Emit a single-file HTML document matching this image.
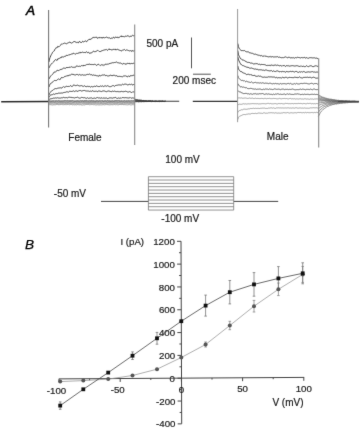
<!DOCTYPE html>
<html><head><meta charset="utf-8"><title>Figure</title>
<style>
html,body{margin:0;padding:0;background:#fff;}
body{width:360px;height:430px;overflow:hidden;}
svg{display:block;}
text{font-family:"Liberation Sans",sans-serif;fill:#1a1a1a;stroke:#1a1a1a;stroke-width:0.2px;}
.t10{font-size:10px;}
.t95{font-size:9.7px;}
.lab{font-size:13.6px;font-style:italic;stroke-width:0.5px;fill:#000;stroke:#000;}
</style></head>
<body>
<svg width="360" height="430" viewBox="0 0 360 430">
<defs><filter id="soft" x="0" y="0" width="360" height="430" filterUnits="userSpaceOnUse" color-interpolation-filters="sRGB"><feConvolveMatrix order="3" kernelMatrix="1 10 1 10 100 10 1 10 1" divisor="144" edgeMode="duplicate"/></filter></defs>
<g filter="url(#soft)">
<rect width="360" height="430" fill="#fff"/>
<text x="25.9" y="15.4" class="lab">A</text>
<text x="25.1" y="248.9" class="lab" style="stroke-width:0.25px">B</text>
<line x1="1.2" y1="101.7" x2="48.8" y2="101.6" stroke="#2a2a2a" stroke-width="1.5"/>
<path d="M48.9 62L49.5 59L50.11 57.36L50.71 55.86L51.31 54.67L51.92 53.72L52.52 52.3L53.12 51.72L53.73 51.22L54.33 50.81L54.94 49.16L55.54 48.48L56.14 47.53L56.75 47.92L57.35 47.55L57.95 46.11L58.56 46.71L59.16 46.64L59.76 45.95L60.37 45.52L60.97 44.56L61.57 43.9L62.18 44.35L62.78 43.71L63.38 43.59L63.99 43.54L64.59 43.09L65.2 43.46L65.8 43.39L66.4 43.8L67.01 43.28L67.61 43.11L68.21 42.7L68.82 42.68L69.42 42.3L70.02 41.88L70.63 42.81L71.23 43.12L71.83 42.99L72.44 42.74L73.04 42.05L73.64 41.68L74.25 41.63L74.85 41.29L75.45 42.2L76.06 41.97L76.66 42.56L77.27 42.06L77.87 42.74L78.47 42.81L79.08 41.55L79.68 41.41L80.28 42.39L80.89 42.05L81.49 42.67L82.09 41.97L82.7 41.2L83.3 41.72L83.9 42.07L84.51 41.37L85.11 40.79L85.71 40.87L86.32 41.73L86.92 41.59L87.53 40.44L88.13 40.07L88.73 39.56L89.34 39.15L89.94 39.95L90.54 39.07L91.15 39.02L91.75 38.54L92.35 37.73L92.96 38.1L93.56 37.3L94.16 37.8L94.77 37.17L95.37 37.38L95.97 37.13L96.58 37.12L97.18 38.16L97.79 38.26L98.39 37.54L98.99 38.16L99.6 37.36L100.2 37.36L100.8 38.05L101.41 37.99L102.01 37.17L102.61 38.24L103.22 37.47L103.82 37.29L104.42 38.02L105.03 37.63L105.63 37.47L106.23 37.11L106.84 37.02L107.44 37.75L108.05 37.51L108.65 37.97L109.25 37.8L109.86 37.86L110.46 38.63L111.06 38.17L111.67 38.11L112.27 38.48L112.87 37.54L113.48 37.11L114.08 38.03L114.68 38.16L115.29 37.28L115.89 36.82L116.49 37.42L117.1 37.87L117.7 36.85L118.3 37.58L118.91 37.69L119.51 37.27L120.12 36.82L120.72 36.17L121.32 35.81L121.93 37.05L122.53 36.37L123.13 36.8L123.74 36.26L124.34 36.89L124.94 36.75L125.55 36.22L126.15 35.83L126.75 36.49L127.36 35.73L127.96 35.68L128.56 36.14L129.17 36.72L129.77 36.56L130.38 35.98L130.98 36.72L131.58 35.9L132.19 35.32L132.79 35.49L133.39 35.81L134 35.34L134.6 35.35" fill="none" stroke="#444" stroke-width="1"/>
<path d="M48.9 68L49.5 66.85L50.11 65.64L50.71 64.57L51.31 64.03L51.92 63.61L52.52 62.88L53.12 62.39L53.73 61.8L54.33 60.75L54.94 60.02L55.54 59.51L56.14 60.33L56.75 60.08L57.35 60.12L57.95 58.59L58.56 58.69L59.16 58.31L59.76 58.33L60.37 57.59L60.97 58.1L61.57 56.81L62.18 56.84L62.78 56.95L63.38 57.05L63.99 56.7L64.59 56.37L65.2 56.23L65.8 56.21L66.4 55.28L67.01 55.29L67.61 55.47L68.21 55.39L68.82 54.62L69.42 54.78L70.02 54.86L70.63 54.41L71.23 54.26L71.83 53.8L72.44 53.85L73.04 53.85L73.64 53.05L74.25 53.5L74.85 54.1L75.45 54.11L76.06 53.85L76.66 53.23L77.27 53.46L77.87 53.28L78.47 52.97L79.08 53.38L79.68 52.42L80.28 52.97L80.89 52.1L81.49 52.55L82.09 52.48L82.7 52.06L83.3 52.53L83.9 52.39L84.51 52.48L85.11 52.95L85.71 52.22L86.32 51.7L86.92 52L87.53 52.72L88.13 52.38L88.73 52.29L89.34 53.32L89.94 53.35L90.54 52.98L91.15 53.31L91.75 52.41L92.35 52.33L92.96 51.42L93.56 51.22L94.16 51.53L94.77 51.73L95.37 51.76L95.97 51.07L96.58 51.1L97.18 50.73L97.79 50.34L98.39 50.7L98.99 51.3L99.6 51.52L100.2 51.4L100.8 51.69L101.41 50.83L102.01 50.37L102.61 50.58L103.22 50.38L103.82 50.02L104.42 49.92L105.03 49.95L105.63 49.66L106.23 49.35L106.84 49.99L107.44 50.42L108.05 49.84L108.65 49.11L109.25 48.81L109.86 49.89L110.46 49.12L111.06 49.8L111.67 49.86L112.27 49.53L112.87 50.1L113.48 49.24L114.08 49.12L114.68 49.54L115.29 49.11L115.89 50.1L116.49 49.64L117.1 49.36L117.7 49.15L118.3 49.91L118.91 49.94L119.51 50.22L120.12 50.37L120.72 50.65L121.32 50.98L121.93 50.73L122.53 49.98L123.13 50.12L123.74 49.77L124.34 49.43L124.94 49.98L125.55 50.52L126.15 49.99L126.75 49.95L127.36 50.05L127.96 50.6L128.56 50.57L129.17 50.71L129.77 50.97L130.38 50.58L130.98 51.02L131.58 51.35L132.19 50.34L132.79 51.19L133.39 51.22L134 50.42L134.6 50.61" fill="none" stroke="#444" stroke-width="1"/>
<path d="M48.9 79L49.5 77.93L50.11 76.85L50.71 75.96L51.31 75.37L51.92 74.72L52.52 74.39L53.12 73.4L53.73 72.96L54.33 71.95L54.94 71.99L55.54 71.88L56.14 71.38L56.75 71.09L57.35 70.13L57.95 70.51L58.56 70.59L59.16 70.47L59.76 69.73L60.37 69.7L60.97 68.97L61.57 69.39L62.18 69.38L62.78 68.63L63.38 67.95L63.99 68.1L64.59 68.23L65.2 68.49L65.8 68.15L66.4 67.38L67.01 68.06L67.61 67.27L68.21 67.89L68.82 67.24L69.42 67.16L70.02 67.65L70.63 66.92L71.23 66.62L71.83 66.94L72.44 67.26L73.04 67.47L73.64 67.3L74.25 67.52L74.85 66.96L75.45 67.3L76.06 66.25L76.66 66L77.27 66.26L77.87 65.99L78.47 66.41L79.08 66.38L79.68 66.16L80.28 66.44L80.89 66.1L81.49 65.57L82.09 65.4L82.7 65.85L83.3 65.99L83.9 65.05L84.51 65.47L85.11 65.68L85.71 65.1L86.32 64.89L86.92 64.26L87.53 64.42L88.13 64.39L88.73 64.48L89.34 63.75L89.94 64.71L90.54 64.47L91.15 64.24L91.75 64.7L92.35 64.57L92.96 64.45L93.56 64.7L94.16 64L94.77 64.4L95.37 64.41L95.97 65.15L96.58 65.4L97.18 64.66L97.79 64.7L98.39 64.3L98.99 64.58L99.6 65.2L100.2 65.55L100.8 65.14L101.41 64.8L102.01 64.53L102.61 64.99L103.22 65.55L103.82 64.69L104.42 65.19L105.03 64.33L105.63 64.19L106.23 64.1L106.84 64.59L107.44 64.19L108.05 64L108.65 64.17L109.25 63.46L109.86 63.92L110.46 63.18L111.06 63.33L111.67 62.94L112.27 62.64L112.87 62.88L113.48 62.76L114.08 62.57L114.68 62.5L115.29 62.58L115.89 62.09L116.49 61.97L117.1 62.48L117.7 62.7L118.3 62.68L118.91 63.16L119.51 63.1L120.12 63.48L120.72 62.89L121.32 63.43L121.93 63.8L122.53 64.12L123.13 63.54L123.74 63.38L124.34 64.14L124.94 63.5L125.55 64.28L126.15 64.41L126.75 63.47L127.36 63.28L127.96 63.85L128.56 63.44L129.17 63.08L129.77 63.92L130.38 63.67L130.98 64.07L131.58 63.34L132.19 63.45L132.79 63.85L133.39 63.13L134 63.11L134.6 63.73" fill="none" stroke="#444" stroke-width="1"/>
<path d="M48.9 87L49.5 85.54L50.11 84.04L50.71 83.38L51.31 83.08L51.92 82.55L52.52 82.34L53.12 81.5L53.73 80.89L54.33 80.57L54.94 80.23L55.54 80.59L56.14 80.52L56.75 80.4L57.35 79.67L57.95 79.26L58.56 78.94L59.16 79.4L59.76 79.54L60.37 79.32L60.97 78.05L61.57 77.38L62.18 78.03L62.78 77.49L63.38 77.5L63.99 76.83L64.59 76.62L65.2 76.48L65.8 76.21L66.4 76.22L67.01 75.4L67.61 75.82L68.21 76.03L68.82 75.2L69.42 75.13L70.02 75.35L70.63 74.94L71.23 74.46L71.83 74.18L72.44 74.44L73.04 73.89L73.64 74.71L74.25 74.87L74.85 74.8L75.45 74.98L76.06 74.76L76.66 74.43L77.27 74.55L77.87 74.5L78.47 75.06L79.08 75.05L79.68 74.4L80.28 74.97L80.89 74.97L81.49 75.02L82.09 75.09L82.7 74.63L83.3 75.06L83.9 75.2L84.51 75.03L85.11 75.07L85.71 75.08L86.32 74.66L86.92 74.91L87.53 74.22L88.13 74.31L88.73 74.51L89.34 74.04L89.94 74.3L90.54 74.75L91.15 74.92L91.75 74.55L92.35 75.31L92.96 75.29L93.56 74.94L94.16 75.25L94.77 75.3L95.37 75.33L95.97 75.21L96.58 75.95L97.18 75.81L97.79 75.87L98.39 75.99L98.99 76.31L99.6 75.28L100.2 75.63L100.8 75.89L101.41 75.4L102.01 75.38L102.61 74.95L103.22 74.95L103.82 75.15L104.42 74.87L105.03 74.94L105.63 75.73L106.23 75.56L106.84 75.44L107.44 75.93L108.05 75.62L108.65 76.01L109.25 75.71L109.86 75.81L110.46 74.98L111.06 75.33L111.67 75.68L112.27 74.99L112.87 75.85L113.48 75.28L114.08 75.52L114.68 75.3L115.29 75.67L115.89 76.01L116.49 75.53L117.1 76.48L117.7 76.25L118.3 76.35L118.91 76.52L119.51 76.34L120.12 76.22L120.72 76.64L121.32 76.69L121.93 76.38L122.53 76.78L123.13 76.4L123.74 75.92L124.34 76.01L124.94 75.77L125.55 75.79L126.15 76.48L126.75 76.24L127.36 76.72L127.96 76.66L128.56 75.74L129.17 76.48L129.77 76.63L130.38 75.56L130.98 76.11L131.58 75.65L132.19 75.46L132.79 75.9L133.39 75.09L134 75.04L134.6 75.42" fill="none" stroke="#444" stroke-width="1"/>
<path d="M48.9 95L49.5 93.44L50.11 92.53L50.71 91.96L51.31 91.37L51.92 90.52L52.52 90.43L53.12 90.05L53.73 89.45L54.33 88.91L54.94 89.08L55.54 88.55L56.14 88.58L56.75 88.7L57.35 88.39L57.95 87.96L58.56 88.06L59.16 87.81L59.76 88.03L60.37 87.75L60.97 88.08L61.57 88.06L62.18 87.74L62.78 87.02L63.38 86.56L63.99 87.19L64.59 87.23L65.2 87.01L65.8 86.58L66.4 86.28L67.01 86.57L67.61 86.49L68.21 86.44L68.82 86.41L69.42 86.48L70.02 85.82L70.63 85.61L71.23 86.28L71.83 86.4L72.44 86.37L73.04 85.4L73.64 85.06L74.25 85.16L74.85 85.36L75.45 85.65L76.06 85.19L76.66 85.53L77.27 85.15L77.87 85.05L78.47 85.7L79.08 85.81L79.68 85.97L80.28 85.77L80.89 85.85L81.49 85.62L82.09 85.72L82.7 86.24L83.3 86.55L83.9 85.86L84.51 85.7L85.11 86.43L85.71 86.51L86.32 86.73L86.92 86.21L87.53 86.29L88.13 86.14L88.73 86.71L89.34 86.43L89.94 86.65L90.54 87.09L91.15 86.51L91.75 86.55L92.35 86.78L92.96 87.05L93.56 86.6L94.16 86.37L94.77 85.99L95.37 86.7L95.97 86.07L96.58 85.85L97.18 86.29L97.79 86.35L98.39 86.58L98.99 86.23L99.6 86.63L100.2 85.99L100.8 85.9L101.41 86.36L102.01 85.87L102.61 85.93L103.22 86.41L103.82 86.53L104.42 86.11L105.03 85.8L105.63 85.91L106.23 86.34L106.84 86.08L107.44 85.69L108.05 86.19L108.65 86.2L109.25 86.56L109.86 86.69L110.46 86.68L111.06 86.14L111.67 86.32L112.27 85.81L112.87 85.62L113.48 85.62L114.08 86.18L114.68 86.3L115.29 85.6L115.89 85.44L116.49 85.32L117.1 85.22L117.7 85.15L118.3 85.04L118.91 84.71L119.51 84.93L120.12 85.19L120.72 84.92L121.32 85.09L121.93 84.78L122.53 84.2L123.13 84.59L123.74 84.84L124.34 84.24L124.94 83.75L125.55 84.13L126.15 84.29L126.75 84.38L127.36 84.87L127.96 84.7L128.56 84.83L129.17 84.08L129.77 84.38L130.38 84.77L130.98 84.17L131.58 84L132.19 84.71L132.79 85.18L133.39 84.51L134 84.94L134.6 84.62" fill="none" stroke="#444" stroke-width="1"/>
<path d="M48.9 97.5L49.5 96.23L50.11 95.38L50.71 94.92L51.31 94.88L51.92 94.62L52.52 94.64L53.12 94.22L53.73 93.93L54.33 94.37L54.94 94.13L55.54 93.77L56.14 93.6L56.75 93.63L57.35 93.55L57.95 93.65L58.56 93.1L59.16 93.25L59.76 93.08L60.37 93.15L60.97 93.06L61.57 93.01L62.18 93L62.78 93.02L63.38 92.66L63.99 92.38L64.59 92.42L65.2 92.48L65.8 92.08L66.4 91.9L67.01 91.53L67.61 91.96L68.21 92.32L68.82 91.8L69.42 91.37L70.02 91.23L70.63 91.37L71.23 91.26L71.83 91.87L72.44 91.15L73.04 91.12L73.64 90.89L74.25 91.32L74.85 91.58L75.45 91.05L76.06 90.72L76.66 90.99L77.27 91.18L77.87 91.55L78.47 90.79L79.08 90.57L79.68 90.56L80.28 90.56L80.89 90.57L81.49 91.04L82.09 91.07L82.7 90.7L83.3 90.52L83.9 90.55L84.51 90.45L85.11 91L85.71 90.75L86.32 90.9L86.92 91.23L87.53 91.02L88.13 90.74L88.73 91.28L89.34 91.51L89.94 91.03L90.54 91.08L91.15 91.52L91.75 91.22L92.35 90.87L92.96 90.59L93.56 91.4L94.16 91.56L94.77 91.21L95.37 91.24L95.97 91.26L96.58 91.03L97.18 91.68L97.79 91.58L98.39 91.13L98.99 90.75L99.6 91.08L100.2 91.1L100.8 91.53L101.41 91.59L102.01 91.51L102.61 91.03L103.22 90.86L103.82 90.97L104.42 90.94L105.03 91.54L105.63 91.4L106.23 91.47L106.84 91.85L107.44 91.26L108.05 91.32L108.65 90.96L109.25 91.45L109.86 90.85L110.46 91.47L111.06 91.71L111.67 91.77L112.27 91.06L112.87 91L113.48 91.44L114.08 90.98L114.68 91.21L115.29 91.29L115.89 91.81L116.49 91.64L117.1 91.86L117.7 91.4L118.3 91.73L118.91 91.49L119.51 91.92L120.12 91.26L120.72 91.78L121.32 91.35L121.93 91.56L122.53 91.62L123.13 91.29L123.74 91.87L124.34 91.56L124.94 91.47L125.55 91.22L126.15 91.37L126.75 91.61L127.36 91.96L127.96 91.74L128.56 92.01L129.17 91.55L129.77 91.69L130.38 91.83L130.98 92.41L131.58 92.5L132.19 92.38L132.79 91.71L133.39 91.87L134 92.28L134.6 91.98" fill="none" stroke="#444" stroke-width="1"/>
<path d="M48.9 99.5L49.5 99.23L50.11 98.84L50.71 98.87L51.31 98.79L51.92 98.37L52.52 98.45L53.12 98.16L53.73 98.1L54.33 98.19L54.94 97.97L55.54 97.9L56.14 97.9L56.75 98.13L57.35 97.82L57.95 97.64L58.56 98.04L59.16 97.81L59.76 98.27L60.37 98.07L60.97 98.13L61.57 97.79L62.18 98.1L62.78 97.54L63.38 97.38L63.99 97.27L64.59 97.74L65.2 97.92L65.8 97.5L66.4 97.55L67.01 97.94L67.61 97.85L68.21 97.36L68.82 97.31L69.42 97.22L70.02 97.15L70.63 97.38L71.23 97.15L71.83 97.83L72.44 97.62L73.04 97.62L73.64 97.74L74.25 97.89L74.85 97.99L75.45 97.63L76.06 97.47L76.66 97.49L77.27 97.14L77.87 97.38L78.47 97.74L79.08 98.14L79.68 98.12L80.28 98.01L80.89 97.94L81.49 97.4L82.09 97.5L82.7 97.57L83.3 97.88L83.9 97.52L84.51 97.65L85.11 97.83L85.71 98.16L86.32 98.31L86.92 98.19L87.53 97.74L88.13 98.14L88.73 98.41L89.34 98.19L89.94 97.93L90.54 97.98L91.15 97.67L91.75 98.08L92.35 98.46L92.96 98.18L93.56 98.26L94.16 98.39L94.77 97.86L95.37 98.35L95.97 98.24L96.58 97.81L97.18 97.56L97.79 97.62L98.39 97.93L98.99 98.15L99.6 97.9L100.2 98.35L100.8 98L101.41 97.96L102.01 97.65L102.61 98.3L103.22 97.78L103.82 98.28L104.42 98.14L105.03 98.1L105.63 98.09L106.23 97.81L106.84 98.3L107.44 98.54L108.05 98.47L108.65 98.25L109.25 97.74L109.86 98.2L110.46 97.87L111.06 98.31L111.67 97.87L112.27 98.01L112.87 98.29L113.48 97.81L114.08 97.97L114.68 97.6L115.29 97.42L115.89 97.5L116.49 98.25L117.1 98.47L117.7 98.29L118.3 97.91L118.91 98.1L119.51 98.23L120.12 97.95L120.72 98.04L121.32 98.27L121.93 97.63L122.53 97.58L123.13 97.8L123.74 97.58L124.34 97.72L124.94 97.93L125.55 97.65L126.15 97.86L126.75 97.7L127.36 97.92L127.96 97.78L128.56 98.01L129.17 97.54L129.77 97.95L130.38 97.61L130.98 98.23L131.58 98.12L132.19 97.96L132.79 97.85L133.39 98L134 98.11L134.6 98.2" fill="none" stroke="#444" stroke-width="1"/>
<path d="M48.9 100.7L49.6 100.73L50.3 100.93L51.01 100.93L51.71 100.94L52.41 100.74L53.11 100.69L53.82 100.72L54.52 100.89L55.22 100.78L55.92 100.74L56.63 100.68L57.33 100.87L58.03 100.68L58.73 100.5L59.44 100.73L60.14 100.89L60.84 100.87L61.54 100.8L62.25 100.85L62.95 100.67L63.65 100.73L64.35 100.52L65.06 100.47L65.76 100.6L66.46 100.67L67.16 100.64L67.87 100.48L68.57 100.71L69.27 100.71L69.97 100.59L70.68 100.58L71.38 100.61L72.08 100.55L72.78 100.46L73.49 100.8L74.19 100.94L74.89 100.86L75.59 100.92L76.3 100.74L77 100.85L77.7 100.63L78.4 100.78L79.11 100.76L79.81 100.9L80.51 100.59L81.21 100.79L81.92 100.57L82.62 100.67L83.32 100.89L84.02 100.55L84.73 100.53L85.43 100.55L86.13 100.57L86.83 100.46L87.54 100.79L88.24 100.87L88.94 100.71L89.64 100.64L90.35 100.72L91.05 100.51L91.75 100.43L92.45 100.78L93.15 100.64L93.86 100.68L94.56 100.88L95.26 100.97L95.96 100.78L96.67 100.6L97.37 100.58L98.07 100.84L98.77 100.92L99.48 100.64L100.18 100.83L100.88 100.68L101.58 100.68L102.29 100.55L102.99 100.81L103.69 100.96L104.39 100.66L105.1 100.74L105.8 100.58L106.5 100.83L107.2 100.55L107.91 100.47L108.61 100.72L109.31 100.62L110.01 100.85L110.72 100.92L111.42 100.87L112.12 100.6L112.82 100.75L113.53 100.91L114.23 100.75L114.93 100.53L115.63 100.52L116.34 100.55L117.04 100.74L117.74 100.58L118.44 100.52L119.15 100.52L119.85 100.71L120.55 100.83L121.25 100.69L121.96 100.77L122.66 100.89L123.36 100.81L124.06 100.62L124.77 100.58L125.47 100.85L126.17 100.82L126.87 100.65L127.58 100.74L128.28 100.53L128.98 100.85L129.68 100.73L130.39 100.72L131.09 100.72L131.79 100.51L132.49 100.68L133.2 100.6L133.9 100.55L134.6 100.78" fill="none" stroke="#555" stroke-width="0.85"/>
<path d="M48.9 101.6L49.6 101.44L50.3 101.66L51.01 101.51L51.71 101.47L52.41 101.58L53.11 101.45L53.82 101.72L54.52 101.86L55.22 101.49L55.92 101.54L56.63 101.69L57.33 101.58L58.03 101.78L58.73 101.66L59.44 101.48L60.14 101.58L60.84 101.66L61.54 101.56L62.25 101.66L62.95 101.74L63.65 101.66L64.35 101.62L65.06 101.76L65.76 101.74L66.46 101.66L67.16 101.82L67.87 101.53L68.57 101.7L69.27 101.49L69.97 101.61L70.68 101.49L71.38 101.53L72.08 101.7L72.78 101.76L73.49 101.78L74.19 101.55L74.89 101.58L75.59 101.47L76.3 101.59L77 101.6L77.7 101.39L78.4 101.57L79.11 101.68L79.81 101.66L80.51 101.79L81.21 101.52L81.92 101.42L82.62 101.32L83.32 101.5L84.02 101.54L84.73 101.55L85.43 101.48L86.13 101.69L86.83 101.44L87.54 101.72L88.24 101.67L88.94 101.64L89.64 101.74L90.35 101.54L91.05 101.42L91.75 101.45L92.45 101.35L93.15 101.43L93.86 101.59L94.56 101.61L95.26 101.5L95.96 101.6L96.67 101.42L97.37 101.68L98.07 101.48L98.77 101.45L99.48 101.4L100.18 101.61L100.88 101.75L101.58 101.78L102.29 101.47L102.99 101.51L103.69 101.51L104.39 101.44L105.1 101.75L105.8 101.45L106.5 101.54L107.2 101.7L107.91 101.85L108.61 101.53L109.31 101.56L110.01 101.69L110.72 101.43L111.42 101.43L112.12 101.71L112.82 101.48L113.53 101.51L114.23 101.48L114.93 101.52L115.63 101.39L116.34 101.32L117.04 101.72L117.74 101.76L118.44 101.76L119.15 101.54L119.85 101.47L120.55 101.58L121.25 101.48L121.96 101.54L122.66 101.77L123.36 101.6L124.06 101.53L124.77 101.79L125.47 101.71L126.17 101.44L126.87 101.5L127.58 101.63L128.28 101.42L128.98 101.47L129.68 101.64L130.39 101.77L131.09 101.7L131.79 101.81L132.49 101.66L133.2 101.57L133.9 101.74L134.6 101.6" fill="none" stroke="#5a5a5a" stroke-width="0.85"/>
<path d="M48.9 102.6L49.6 102.52L50.3 102.5L51.01 102.43L51.71 102.56L52.41 102.44L53.11 102.41L53.82 102.41L54.52 102.52L55.22 102.49L55.92 102.54L56.63 102.8L57.33 102.75L58.03 102.81L58.73 102.54L59.44 102.53L60.14 102.39L60.84 102.61L61.54 102.54L62.25 102.48L62.95 102.35L63.65 102.37L64.35 102.42L65.06 102.49L65.76 102.75L66.46 102.75L67.16 102.55L67.87 102.52L68.57 102.42L69.27 102.73L69.97 102.58L70.68 102.71L71.38 102.74L72.08 102.83L72.78 102.47L73.49 102.48L74.19 102.51L74.89 102.38L75.59 102.69L76.3 102.56L77 102.7L77.7 102.64L78.4 102.42L79.11 102.49L79.81 102.45L80.51 102.34L81.21 102.36L81.92 102.56L82.62 102.38L83.32 102.44L84.02 102.51L84.73 102.59L85.43 102.44L86.13 102.63L86.83 102.51L87.54 102.67L88.24 102.7L88.94 102.48L89.64 102.43L90.35 102.44L91.05 102.64L91.75 102.57L92.45 102.54L93.15 102.74L93.86 102.53L94.56 102.48L95.26 102.49L95.96 102.44L96.67 102.34L97.37 102.3L98.07 102.55L98.77 102.61L99.48 102.74L100.18 102.86L100.88 102.6L101.58 102.68L102.29 102.81L102.99 102.55L103.69 102.67L104.39 102.7L105.1 102.83L105.8 102.84L106.5 102.57L107.2 102.65L107.91 102.44L108.61 102.51L109.31 102.52L110.01 102.38L110.72 102.47L111.42 102.48L112.12 102.56L112.82 102.49L113.53 102.41L114.23 102.49L114.93 102.55L115.63 102.44L116.34 102.62L117.04 102.49L117.74 102.38L118.44 102.45L119.15 102.51L119.85 102.42L120.55 102.57L121.25 102.68L121.96 102.65L122.66 102.71L123.36 102.43L124.06 102.49L124.77 102.5L125.47 102.37L126.17 102.48L126.87 102.36L127.58 102.51L128.28 102.61L128.98 102.59L129.68 102.52L130.39 102.46L131.09 102.34L131.79 102.44L132.49 102.72L133.2 102.67L133.9 102.52L134.6 102.65" fill="none" stroke="#777" stroke-width="0.85"/>
<path d="M48.9 103.6L49.6 103.54L50.3 103.63L51.01 103.81L51.71 103.61L52.41 103.64L53.11 103.81L53.82 103.79L54.52 103.72L55.22 103.7L55.92 103.59L56.63 103.56L57.33 103.49L58.03 103.71L58.73 103.8L59.44 103.62L60.14 103.79L60.84 103.46L61.54 103.39L62.25 103.53L62.95 103.49L63.65 103.5L64.35 103.78L65.06 103.51L65.76 103.43L66.46 103.42L67.16 103.62L67.87 103.49L68.57 103.34L69.27 103.53L69.97 103.53L70.68 103.46L71.38 103.55L72.08 103.65L72.78 103.64L73.49 103.67L74.19 103.65L74.89 103.76L75.59 103.86L76.3 103.62L77 103.54L77.7 103.75L78.4 103.57L79.11 103.68L79.81 103.72L80.51 103.72L81.21 103.85L81.92 103.83L82.62 103.53L83.32 103.63L84.02 103.61L84.73 103.63L85.43 103.55L86.13 103.49L86.83 103.67L87.54 103.64L88.24 103.5L88.94 103.45L89.64 103.47L90.35 103.41L91.05 103.54L91.75 103.41L92.45 103.34L93.15 103.32L93.86 103.33L94.56 103.59L95.26 103.43L95.96 103.52L96.67 103.69L97.37 103.62L98.07 103.46L98.77 103.71L99.48 103.8L100.18 103.47L100.88 103.45L101.58 103.55L102.29 103.71L102.99 103.59L103.69 103.69L104.39 103.52L105.1 103.67L105.8 103.55L106.5 103.51L107.2 103.68L107.91 103.78L108.61 103.81L109.31 103.7L110.01 103.6L110.72 103.69L111.42 103.69L112.12 103.78L112.82 103.79L113.53 103.5L114.23 103.51L114.93 103.64L115.63 103.5L116.34 103.43L117.04 103.32L117.74 103.54L118.44 103.77L119.15 103.87L119.85 103.53L120.55 103.66L121.25 103.59L121.96 103.65L122.66 103.57L123.36 103.78L124.06 103.88L124.77 103.5L125.47 103.66L126.17 103.45L126.87 103.35L127.58 103.42L128.28 103.64L128.98 103.83L129.68 103.51L130.39 103.49L131.09 103.35L131.79 103.53L132.49 103.57L133.2 103.53L133.9 103.49L134.6 103.69" fill="none" stroke="#888" stroke-width="0.85"/>
<path d="M48.9 104.7L49.6 104.66L50.3 104.64L51.01 104.73L51.71 104.83L52.41 104.96L53.11 104.74L53.82 104.8L54.52 104.76L55.22 104.85L55.92 104.6L56.63 104.52L57.33 104.46L58.03 104.81L58.73 104.63L59.44 104.67L60.14 104.52L60.84 104.56L61.54 104.44L62.25 104.64L62.95 104.52L63.65 104.69L64.35 104.6L65.06 104.54L65.76 104.64L66.46 104.62L67.16 104.57L67.87 104.46L68.57 104.42L69.27 104.78L69.97 104.64L70.68 104.49L71.38 104.49L72.08 104.62L72.78 104.89L73.49 104.64L74.19 104.84L74.89 104.74L75.59 104.68L76.3 104.83L77 104.7L77.7 104.5L78.4 104.65L79.11 104.75L79.81 104.77L80.51 104.63L81.21 104.87L81.92 104.92L82.62 104.99L83.32 104.78L84.02 104.87L84.73 104.86L85.43 104.61L86.13 104.46L86.83 104.47L87.54 104.45L88.24 104.43L88.94 104.54L89.64 104.76L90.35 104.64L91.05 104.68L91.75 104.48L92.45 104.5L93.15 104.83L93.86 104.53L94.56 104.65L95.26 104.82L95.96 104.87L96.67 104.86L97.37 104.71L98.07 104.84L98.77 104.89L99.48 104.89L100.18 104.98L100.88 104.62L101.58 104.87L102.29 104.72L102.99 104.8L103.69 104.62L104.39 104.85L105.1 104.54L105.8 104.68L106.5 104.57L107.2 104.61L107.91 104.61L108.61 104.74L109.31 104.85L110.01 104.69L110.72 104.76L111.42 104.66L112.12 104.59L112.82 104.84L113.53 104.67L114.23 104.51L114.93 104.56L115.63 104.76L116.34 104.59L117.04 104.77L117.74 104.74L118.44 104.79L119.15 104.59L119.85 104.49L120.55 104.47L121.25 104.55L121.96 104.62L122.66 104.46L123.36 104.62L124.06 104.63L124.77 104.6L125.47 104.68L126.17 104.89L126.87 104.64L127.58 104.85L128.28 104.67L128.98 104.8L129.68 104.56L130.39 104.87L131.09 104.73L131.79 104.91L132.49 104.65L133.2 104.64L133.9 104.77L134.6 104.58" fill="none" stroke="#8a8a8a" stroke-width="0.85"/>
<path d="M134.6 98.89L135.3 99.35L136 99.27L136.7 99.72L137.4 99.7L138.1 99.9L138.8 100.09L139.5 100.11L140.2 100.13L140.9 100.18L141.6 100.23L142.3 100.58L143 100.54L143.7 100.49L144.4 100.85L145.1 100.66L145.8 100.77L146.5 100.78L147.2 100.95L147.9 100.98L148.6 101.02L149.3 100.92L150 100.96L150.7 100.98L151.4 101.04L152.1 100.99L152.8 101.02L153.5 101.36L154.2 101.38L154.9 101.09L155.6 101.04L156.3 101.12L157 101.33L157.7 101.38L158.4 101.09L159.1 101.32L159.8 101.1L160.5 101.31L161.2 101.37L161.9 101.52L162.6 101.23L163.3 101.45L164 101.49L164.7 101.51L165.4 101.15" fill="none" stroke="#333" stroke-width="0.9"/>
<path d="M134.6 99.79L135.3 100.13L136 100.02L136.7 100.29L137.4 100.29L138.1 100.48L138.8 100.45L139.5 100.34L140.2 100.44L140.9 100.52L141.6 100.63L142.3 100.97L143 100.89L143.7 101.01L144.4 100.96L145.1 101.02L145.8 101.13L146.5 101.21L147.2 101.23L147.9 101.23L148.6 100.96L149.3 101.09L150 100.98L150.7 101.2L151.4 101.32L152.1 101.04L152.8 101.11L153.5 101.2L154.2 101.16L154.9 101.39L155.6 101.22L156.3 101.35L157 101.3L157.7 101.34L158.4 101.49L159.1 101.5L159.8 101.18L160.5 101.47L161.2 101.28L161.9 101.19L162.6 101.31L163.3 101.36L164 101.54L164.7 101.31L165.4 101.17" fill="none" stroke="#333" stroke-width="0.9"/>
<path d="M134.6 100.64L135.3 100.42L136 100.64L136.7 100.85L137.4 100.77L138.1 100.8L138.8 100.99L139.5 100.72L140.2 100.98L140.9 100.96L141.6 101.22L142.3 101.18L143 100.91L143.7 100.99L144.4 101.12L145.1 101.24L145.8 101.11L146.5 101.14L147.2 101.38L147.9 101.41L148.6 101.21L149.3 101.42L150 101.2L150.7 101.11L151.4 101.3L152.1 101.36L152.8 101.46L153.5 101.5L154.2 101.43L154.9 101.43L155.6 101.42L156.3 101.42L157 101.45L157.7 101.54L158.4 101.3L159.1 101.19L159.8 101.26L160.5 101.25L161.2 101.31L161.9 101.49L162.6 101.2L163.3 101.35L164 101.5L164.7 101.28L165.4 101.21" fill="none" stroke="#333" stroke-width="0.9"/>
<path d="M134.6 101.8L135.3 101.69L136 101.94L136.7 101.65L137.4 101.63L138.1 101.85L138.8 101.82L139.5 101.71L140.2 101.81L140.9 101.45L141.6 101.79L142.3 101.62L143 101.5L143.7 101.69L144.4 101.61L145.1 101.73L145.8 101.37L146.5 101.55L147.2 101.49L147.9 101.56L148.6 101.38L149.3 101.29L150 101.49L150.7 101.41L151.4 101.62L152.1 101.44L152.8 101.42L153.5 101.5L154.2 101.45L154.9 101.62L155.6 101.55L156.3 101.43L157 101.31L157.7 101.47L158.4 101.52L159.1 101.53L159.8 101.62L160.5 101.31L161.2 101.39L161.9 101.39L162.6 101.34L163.3 101.36L164 101.4L164.7 101.43L165.4 101.32" fill="none" stroke="#333" stroke-width="0.9"/>
<line x1="134.8" y1="101.3" x2="179.2" y2="101.2" stroke="#3a3a3a" stroke-width="1.1"/>
<line x1="48.6" y1="10" x2="48.6" y2="127.6" stroke="#777" stroke-width="1.1"/>
<line x1="134.7" y1="24.5" x2="134.7" y2="145" stroke="#8a8a8a" stroke-width="1.1"/>
<line x1="191.5" y1="37.5" x2="191.5" y2="68.3" stroke="#555" stroke-width="1"/>
<line x1="193" y1="74.2" x2="210.8" y2="74.2" stroke="#555" stroke-width="1"/>
<text x="146.5" y="46.7" class="t10">500 pA</text>
<text x="172.6" y="84.2" class="t10">200 msec</text>
<line x1="192.8" y1="101.3" x2="237.8" y2="101.3" stroke="#333" stroke-width="1.2"/>
<path d="M237.8 43.5L238.4 46.32L239 48.16L239.6 49.11L240.2 49.6L240.8 49.95L241.4 50.76L242.01 50.26L242.61 50.61L243.21 50.52L243.81 50.8L244.41 50.53L245.01 50.93L245.61 51.46L246.21 51.75L246.81 51.77L247.41 51.81L248.01 52.05L248.61 51.83L249.21 52.63L249.81 52.9L250.42 52.89L251.02 53.23L251.62 53.24L252.22 53.35L252.82 53.36L253.42 53.85L254.02 54.11L254.62 54.25L255.22 53.9L255.82 54.46L256.42 54.56L257.02 54.82L257.62 54.99L258.23 55.46L258.83 54.91L259.43 55.1L260.03 55.76L260.63 55.8L261.23 55.44L261.83 55.8L262.43 56.23L263.03 55.84L263.63 56.22L264.23 55.66L264.83 56.38L265.43 56.17L266.04 55.89L266.64 56.44L267.24 56.48L267.84 56.82L268.44 56.87L269.04 56.89L269.64 56.65L270.24 57.08L270.84 56.33L271.44 56.91L272.04 56.98L272.64 56.58L273.24 57.02L273.84 56.86L274.45 56.91L275.05 57.28L275.65 56.77L276.25 56.7L276.85 57.06L277.45 56.65L278.05 57L278.65 57.38L279.25 57.24L279.85 56.96L280.45 57.44L281.05 57.68L281.65 57.7L282.26 57.51L282.86 57.81L283.46 57.83L284.06 57.2L284.66 57.22L285.26 56.97L285.86 56.84L286.46 57.11L287.06 57.74L287.66 57.95L288.26 57.31L288.86 57.17L289.46 57.33L290.06 57.86L290.67 57.83L291.27 58.11L291.87 57.39L292.47 58.06L293.07 57.52L293.67 57.77L294.27 58.11L294.87 58.09L295.47 57.56L296.07 57.85L296.67 57.72L297.27 57.27L297.87 57.44L298.48 57.48L299.08 57.81L299.68 57.58L300.28 57.83L300.88 58.01L301.48 57.56L302.08 57.36L302.68 57.85L303.28 57.8L303.88 57.45L304.48 57.31L305.08 58.09L305.68 58.03L306.29 57.76L306.89 57.5L307.49 58.21L308.09 58.16L308.69 58.19L309.29 57.82L309.89 57.65L310.49 57.68L311.09 57.44L311.69 57.84L312.29 57.77L312.89 58.15L313.49 57.87L314.09 57.83L314.7 57.87L315.3 58.32L315.9 57.89L316.5 58.1L317.1 57.96L317.7 58.72L318.3 59.09" fill="none" stroke="#444" stroke-width="1"/>
<path d="M237.8 50.5L238.4 54.19L239 55.99L239.6 57.2L240.2 57.83L240.8 58.86L241.4 59.01L242.01 59.7L242.61 60.05L243.21 60.23L243.81 60.1L244.41 60.59L245.01 60.8L245.61 61.21L246.21 62.04L246.81 61.82L247.41 62.29L248.01 62.57L248.61 62.36L249.21 62.56L249.81 62.44L250.42 63.23L251.02 62.94L251.62 63.08L252.22 63.12L252.82 63.67L253.42 63.95L254.02 63.85L254.62 63.82L255.22 63.41L255.82 64.11L256.42 63.6L257.02 63.74L257.62 63.84L258.23 64.26L258.83 64.4L259.43 64.16L260.03 64.67L260.63 64.94L261.23 64.15L261.83 64.52L262.43 64.52L263.03 64.44L263.63 64.55L264.23 64.47L264.83 64.83L265.43 64.92L266.04 65.35L266.64 65.53L267.24 65.64L267.84 65.11L268.44 65.38L269.04 65.32L269.64 65.38L270.24 65.72L270.84 64.93L271.44 65.07L272.04 65.08L272.64 65.36L273.24 65.04L273.84 65.72L274.45 65.2L275.05 65.2L275.65 64.99L276.25 65.19L276.85 65.62L277.45 65.13L278.05 65.06L278.65 65.53L279.25 65.69L279.85 65.88L280.45 65.47L281.05 65.9L281.65 65.99L282.26 66.08L282.86 65.47L283.46 65.62L284.06 65.23L284.66 65.96L285.26 66.31L285.86 66.4L286.46 65.57L287.06 65.63L287.66 65.84L288.26 65.93L288.86 65.55L289.46 66.11L290.06 65.83L290.67 65.95L291.27 65.62L291.87 65.96L292.47 65.66L293.07 65.52L293.67 65.9L294.27 65.83L294.87 66.3L295.47 65.94L296.07 65.99L296.67 65.65L297.27 65.71L297.87 65.97L298.48 66.17L299.08 66.14L299.68 66.53L300.28 65.92L300.88 66.46L301.48 65.96L302.08 66.6L302.68 66.38L303.28 66.19L303.88 66.33L304.48 66.64L305.08 66.85L305.68 66.37L306.29 65.81L306.89 65.75L307.49 66.4L308.09 66.55L308.69 66.58L309.29 66.04L309.89 66.22L310.49 65.79L311.09 65.72L311.69 65.89L312.29 66.61L312.89 66.55L313.49 66.73L314.09 65.99L314.7 66.11L315.3 65.81L315.9 65.89L316.5 65.77L317.1 66.53L317.7 66.21L318.3 66.26" fill="none" stroke="#444" stroke-width="1"/>
<path d="M237.8 57L238.4 59.11L239 60.96L239.6 62.19L240.2 63.2L240.8 64.43L241.4 64.61L242.01 64.85L242.61 65.61L243.21 65.6L243.81 65.88L244.41 66.21L245.01 66.53L245.61 66.68L246.21 66.95L246.81 67.2L247.41 67.01L248.01 67.85L248.61 67.48L249.21 67.91L249.81 68.17L250.42 68.19L251.02 68.11L251.62 68.03L252.22 68.35L252.82 68.47L253.42 68.75L254.02 68.66L254.62 69.2L255.22 69.19L255.82 68.77L256.42 69.07L257.02 69.79L257.62 69.14L258.23 69.54L258.83 70.1L259.43 69.75L260.03 69.91L260.63 69.78L261.23 69.72L261.83 70.05L262.43 70.19L263.03 70L263.63 70.16L264.23 70.28L264.83 70.6L265.43 70.04L266.04 69.93L266.64 70.08L267.24 70.19L267.84 70.79L268.44 70.66L269.04 71.08L269.64 70.8L270.24 70.61L270.84 70.97L271.44 70.53L272.04 71.3L272.64 71.45L273.24 71.02L273.84 70.89L274.45 71.37L275.05 71.53L275.65 71.46L276.25 70.87L276.85 71.4L277.45 70.88L278.05 71.3L278.65 71.39L279.25 71.81L279.85 71.69L280.45 71.04L281.05 71.74L281.65 71.82L282.26 71.69L282.86 71.08L283.46 71.61L284.06 71.49L284.66 71.72L285.26 72.12L285.86 72.2L286.46 71.4L287.06 71.83L287.66 71.66L288.26 71.92L288.86 71.64L289.46 71.63L290.06 71.62L290.67 71.31L291.27 71.41L291.87 71.87L292.47 71.38L293.07 71.26L293.67 71.94L294.27 72.02L294.87 71.94L295.47 71.48L296.07 71.33L296.67 71.48L297.27 72.18L297.87 72.04L298.48 72.36L299.08 71.77L299.68 71.77L300.28 71.9L300.88 72.25L301.48 71.66L302.08 72.21L302.68 72.01L303.28 71.5L303.88 71.73L304.48 71.76L305.08 72.08L305.68 72.45L306.29 72.15L306.89 72.24L307.49 71.98L308.09 72.28L308.69 71.72L309.29 72.16L309.89 71.75L310.49 72.03L311.09 71.74L311.69 71.79L312.29 71.63L312.89 71.76L313.49 72.06L314.09 72.09L314.7 71.97L315.3 72.12L315.9 72.44L316.5 72.07L317.1 72.17L317.7 72.1L318.3 72.58" fill="none" stroke="#444" stroke-width="1"/>
<path d="M237.8 66L238.4 69L239 69.83L239.6 70.37L240.2 71.29L240.8 71.68L241.4 71.69L242.01 71.7L242.61 72.66L243.21 72.72L243.81 73.24L244.41 73.28L245.01 73.62L245.61 73.8L246.21 74.39L246.81 74.64L247.41 74.37L248.01 74.4L248.61 74.25L249.21 74.81L249.81 74.44L250.42 74.59L251.02 75.26L251.62 74.75L252.22 75.31L252.82 75.44L253.42 75.53L254.02 75.41L254.62 75.25L255.22 76.05L255.82 76.2L256.42 76.35L257.02 75.75L257.62 76.29L258.23 75.96L258.83 75.88L259.43 76.24L260.03 76.49L260.63 76.14L261.23 76.7L261.83 76.76L262.43 77.13L263.03 77.33L263.63 77.19L264.23 76.85L264.83 77.34L265.43 77.3L266.04 76.89L266.64 77.33L267.24 77.38L267.84 76.96L268.44 76.82L269.04 76.56L269.64 77.01L270.24 76.9L270.84 76.92L271.44 76.91L272.04 76.8L272.64 77.13L273.24 77.06L273.84 77.05L274.45 77.06L275.05 77.31L275.65 77.77L276.25 77.23L276.85 77.75L277.45 77.93L278.05 77.75L278.65 77.63L279.25 77.78L279.85 77.63L280.45 77.71L281.05 77.99L281.65 77.95L282.26 77.42L282.86 77.03L283.46 77.77L284.06 77.46L284.66 77.77L285.26 77.33L285.86 77.39L286.46 77.33L287.06 77.67L287.66 78L288.26 77.68L288.86 77.63L289.46 77.39L290.06 77.2L290.67 77.84L291.27 77.23L291.87 77.85L292.47 77.78L293.07 77.17L293.67 77.79L294.27 77.2L294.87 77.46L295.47 77.11L296.07 77.85L296.67 77.43L297.27 77.85L297.87 77.18L298.48 77.56L299.08 77.09L299.68 76.89L300.28 77.36L300.88 77.93L301.48 77.84L302.08 77.97L302.68 77.95L303.28 77.68L303.88 77.14L304.48 77.4L305.08 77.15L305.68 77.4L306.29 77.32L306.89 77.44L307.49 77.18L308.09 77.59L308.69 77.45L309.29 77.47L309.89 77.07L310.49 77.34L311.09 77.5L311.69 77.97L312.29 77.73L312.89 77.21L313.49 77.2L314.09 77.23L314.7 77.61L315.3 77.98L315.9 78.14L316.5 78.17L317.1 78.16L317.7 78.09L318.3 78.14" fill="none" stroke="#444" stroke-width="1"/>
<path d="M237.8 75.5L238.4 77.66L239 78.42L239.6 79.11L240.2 79.57L240.8 79.93L241.4 80.47L242.01 80.11L242.61 80.44L243.21 81.02L243.81 80.59L244.41 80.61L245.01 81.32L245.61 81.73L246.21 81.21L246.81 81.12L247.41 81.8L248.01 82L248.61 82L249.21 82.11L249.81 82.35L250.42 82.52L251.02 81.99L251.62 81.9L252.22 82.49L252.82 82.88L253.42 82.94L254.02 82.65L254.62 82.52L255.22 82.51L255.82 82.27L256.42 82.82L257.02 82.63L257.62 82.85L258.23 82.9L258.83 82.8L259.43 83.06L260.03 83L260.63 82.82L261.23 83.3L261.83 82.93L262.43 82.8L263.03 82.86L263.63 83.08L264.23 83.43L264.83 83.21L265.43 83.07L266.04 83.38L266.64 83.19L267.24 83.35L267.84 83.21L268.44 83.67L269.04 83.3L269.64 83.22L270.24 83.26L270.84 83.31L271.44 83.66L272.04 83.75L272.64 83.89L273.24 83.74L273.84 83.33L274.45 83.75L275.05 83.48L275.65 83.38L276.25 83.5L276.85 84.01L277.45 83.7L278.05 83.58L278.65 83.99L279.25 84.19L279.85 83.78L280.45 83.44L281.05 83.84L281.65 83.97L282.26 83.67L282.86 83.92L283.46 83.68L284.06 83.52L284.66 83.71L285.26 83.9L285.86 83.75L286.46 83.97L287.06 83.41L287.66 83.6L288.26 83.57L288.86 83.31L289.46 83.89L290.06 83.48L290.67 83.39L291.27 83.89L291.87 84.14L292.47 84.2L293.07 83.75L293.67 84.06L294.27 83.54L294.87 83.82L295.47 84.1L296.07 83.59L296.67 83.37L297.27 83.73L297.87 84.02L298.48 83.99L299.08 84.16L299.68 83.82L300.28 83.64L300.88 83.38L301.48 83.4L302.08 83.95L302.68 83.44L303.28 83.36L303.88 83.46L304.48 83.25L305.08 83.39L305.68 83.34L306.29 83.27L306.89 83.57L307.49 83.69L308.09 83.75L308.69 83.93L309.29 83.8L309.89 84.09L310.49 83.5L311.09 83.41L311.69 83.26L312.29 83.39L312.89 83.8L313.49 84.07L314.09 83.83L314.7 83.48L315.3 83.49L315.9 83.68L316.5 83.53L317.1 83.87L317.7 84.14L318.3 83.82" fill="none" stroke="#5a5a5a" stroke-width="0.95"/>
<path d="M237.8 83.5L238.4 85.09L239 85.59L239.6 85.79L240.2 86.62L240.8 87.11L241.4 86.66L242.01 87.2L242.61 87.19L243.21 87.01L243.81 87.13L244.41 87.27L245.01 87.86L245.61 87.74L246.21 87.62L246.81 87.82L247.41 88.43L248.01 88.47L248.61 88.68L249.21 88.66L249.81 88.48L250.42 88.34L251.02 88.56L251.62 88.46L252.22 88.64L252.82 89.01L253.42 88.96L254.02 89.03L254.62 89.18L255.22 89L255.82 88.97L256.42 89.39L257.02 89.3L257.62 89.14L258.23 89.19L258.83 89.15L259.43 89.03L260.03 89.47L260.63 89.08L261.23 89.51L261.83 89.6L262.43 89.65L263.03 89.1L263.63 89.19L264.23 89.61L264.83 89.2L265.43 88.96L266.04 89.33L266.64 89.07L267.24 89.26L267.84 88.99L268.44 89.53L269.04 89.19L269.64 88.92L270.24 89.3L270.84 89.16L271.44 89.29L272.04 89.28L272.64 89.62L273.24 89.42L273.84 89.24L274.45 88.88L275.05 89.14L275.65 89.06L276.25 89.27L276.85 89.39L277.45 89.3L278.05 88.97L278.65 89.18L279.25 89.24L279.85 89.39L280.45 89.71L281.05 89.27L281.65 89.24L282.26 88.95L282.86 89.42L283.46 89.13L284.06 89.5L284.66 89.61L285.26 89.21L285.86 89.59L286.46 89.41L287.06 89.28L287.66 89.34L288.26 89.67L288.86 89.42L289.46 89.33L290.06 89.14L290.67 89.52L291.27 89.38L291.87 89.2L292.47 89.02L293.07 88.98L293.67 89.45L294.27 89.6L294.87 89.79L295.47 89.8L296.07 89.62L296.67 89.65L297.27 89.59L297.87 89.65L298.48 89.66L299.08 89.17L299.68 89.51L300.28 89.21L300.88 89.07L301.48 89.55L302.08 89.01L302.68 89.21L303.28 89.14L303.88 89.48L304.48 89.45L305.08 89.68L305.68 89.78L306.29 89.58L306.89 89.05L307.49 89.35L308.09 89L308.69 89.58L309.29 89.7L309.89 89.29L310.49 89.04L311.09 89.37L311.69 89.53L312.29 89.77L312.89 89.56L313.49 89.09L314.09 89.41L314.7 88.98L315.3 89.48L315.9 89.58L316.5 89.63L317.1 89.71L317.7 89.5L318.3 89.72" fill="none" stroke="#5a5a5a" stroke-width="0.95"/>
<path d="M237.8 90.5L238.4 91.2L239 91.65L239.6 91.86L240.2 91.83L240.8 92.08L241.4 92.82L242.01 92.74L242.61 93.16L243.21 93.49L243.81 93.61L244.41 93.57L245.01 93.43L245.61 93.37L246.21 93.29L246.81 93.64L247.41 93.81L248.01 94.09L248.61 93.71L249.21 94.07L249.81 94.2L250.42 93.76L251.02 94.14L251.62 94.02L252.22 94.27L252.82 94.21L253.42 93.85L254.02 93.69L254.62 93.84L255.22 93.87L255.82 93.53L256.42 94.08L257.02 94.02L257.62 93.96L258.23 94.16L258.83 93.84L259.43 93.7L260.03 93.96L260.63 93.79L261.23 93.8L261.83 93.61L262.43 93.53L263.03 93.75L263.63 93.97L264.23 94.39L264.83 94.29L265.43 94.08L266.04 94.01L266.64 93.85L267.24 93.99L267.84 94.43L268.44 93.92L269.04 93.99L269.64 94.22L270.24 94.37L270.84 94.26L271.44 94.29L272.04 94.54L272.64 94.61L273.24 94.11L273.84 94.17L274.45 94.56L275.05 94.33L275.65 93.98L276.25 94.32L276.85 93.87L277.45 93.79L278.05 94.09L278.65 93.97L279.25 94.29L279.85 94.42L280.45 94.13L281.05 94.4L281.65 94.4L282.26 94.45L282.86 94.27L283.46 94.19L284.06 93.9L284.66 94.1L285.26 94.56L285.86 94.67L286.46 94.04L287.06 93.84L287.66 93.93L288.26 94.31L288.86 94.23L289.46 93.96L290.06 94.11L290.67 94.28L291.27 94.48L291.87 94.28L292.47 94.41L293.07 94.49L293.67 94.46L294.27 94L294.87 94.37L295.47 94.04L296.07 93.87L296.67 94.14L297.27 93.88L297.87 93.83L298.48 94.07L299.08 94.22L299.68 93.99L300.28 94.58L300.88 94.71L301.48 94.47L302.08 94.47L302.68 94.25L303.28 94.71L303.88 94.18L304.48 94.15L305.08 94.07L305.68 94.56L306.29 94.45L306.89 94.33L307.49 94.28L308.09 94.66L308.69 94.29L309.29 94.58L309.89 94.62L310.49 94.43L311.09 94.3L311.69 94.31L312.29 94.33L312.89 94.22L313.49 94.43L314.09 94.34L314.7 94.22L315.3 94.55L315.9 94.42L316.5 94.38L317.1 94.7L317.7 94.47L318.3 94.32" fill="none" stroke="#5a5a5a" stroke-width="0.95"/>
<path d="M237.8 97.5L238.4 97.9L239 97.99L239.6 97.9L240.2 97.99L240.8 98.08L241.4 97.9L242.01 98.07L242.61 98.27L243.21 98.2L243.81 98.19L244.41 98.08L245.01 98.17L245.61 98L246.21 98.23L246.81 98.2L247.41 98.43L248.01 98.19L248.61 98.31L249.21 98L249.81 98.11L250.42 98.34L251.02 98.17L251.62 98.3L252.22 98.15L252.82 98.2L253.42 98.53L254.02 98.24L254.62 98.52L255.22 98.18L255.82 98.33L256.42 98.52L257.02 98.6L257.62 98.4L258.23 98.44L258.83 98.52L259.43 98.58L260.03 98.6L260.63 98.52L261.23 98.33L261.83 98.5L262.43 98.49L263.03 98.48L263.63 98.71L264.23 98.35L264.83 98.56L265.43 98.4L266.04 98.56L266.64 98.73L267.24 98.45L267.84 98.5L268.44 98.5L269.04 98.49L269.64 98.32L270.24 98.5L270.84 98.7L271.44 98.66L272.04 98.45L272.64 98.65L273.24 98.53L273.84 98.34L274.45 98.52L275.05 98.51L275.65 98.55L276.25 98.81L276.85 98.68L277.45 98.84L278.05 98.59L278.65 98.72L279.25 98.42L279.85 98.43L280.45 98.65L281.05 98.73L281.65 98.84L282.26 98.65L282.86 98.53L283.46 98.54L284.06 98.64L284.66 98.42L285.26 98.53L285.86 98.72L286.46 98.52L287.06 98.55L287.66 98.85L288.26 99L288.86 98.7L289.46 98.56L290.06 98.49L290.67 98.45L291.27 98.81L291.87 98.92L292.47 98.71L293.07 98.76L293.67 98.89L294.27 98.6L294.87 98.91L295.47 99.05L296.07 98.76L296.67 98.92L297.27 98.98L297.87 98.82L298.48 99.05L299.08 98.79L299.68 98.84L300.28 98.78L300.88 98.83L301.48 99.04L302.08 99L302.68 99.01L303.28 99.21L303.88 98.89L304.48 98.78L305.08 98.96L305.68 98.78L306.29 99.14L306.89 98.95L307.49 98.94L308.09 98.94L308.69 99.15L309.29 99.27L309.89 99.2L310.49 98.91L311.09 98.91L311.69 99.1L312.29 98.91L312.89 99.2L313.49 99.3L314.09 99L314.7 98.97L315.3 98.9L315.9 99.13L316.5 98.86L317.1 99.11L317.7 98.88L318.3 99.2" fill="none" stroke="#8a8a8a" stroke-width="0.8"/>
<path d="M237.8 105.2L238.4 104.62L239 104.37L239.6 104.12L240.2 104.13L240.8 104.44L241.4 104.31L242.01 104.38L242.61 103.96L243.21 103.82L243.81 103.72L244.41 104.02L245.01 103.85L245.61 103.83L246.21 104.01L246.81 104.09L247.41 103.91L248.01 103.91L248.61 103.81L249.21 103.91L249.81 103.83L250.42 103.8L251.02 103.72L251.62 103.71L252.22 103.68L252.82 103.53L253.42 103.63L254.02 103.8L254.62 103.69L255.22 103.56L255.82 103.89L256.42 103.8L257.02 103.79L257.62 103.67L258.23 103.93L258.83 103.94L259.43 103.87L260.03 103.86L260.63 103.87L261.23 103.77L261.83 103.68L262.43 103.63L263.03 103.67L263.63 103.66L264.23 103.69L264.83 103.69L265.43 103.83L266.04 103.92L266.64 103.61L267.24 103.39L267.84 103.45L268.44 103.33L269.04 103.68L269.64 103.71L270.24 103.55L270.84 103.44L271.44 103.75L272.04 103.84L272.64 103.79L273.24 103.77L273.84 103.8L274.45 103.65L275.05 103.57L275.65 103.62L276.25 103.81L276.85 103.93L277.45 103.93L278.05 103.89L278.65 103.48L279.25 103.43L279.85 103.78L280.45 103.69L281.05 103.64L281.65 103.51L282.26 103.76L282.86 103.66L283.46 103.88L284.06 103.48L284.66 103.81L285.26 103.42L285.86 103.36L286.46 103.46L287.06 103.62L287.66 103.41L288.26 103.57L288.86 103.82L289.46 103.64L290.06 103.75L290.67 103.7L291.27 103.68L291.87 103.46L292.47 103.53L293.07 103.79L293.67 103.76L294.27 103.51L294.87 103.55L295.47 103.61L296.07 103.52L296.67 103.62L297.27 103.68L297.87 103.38L298.48 103.39L299.08 103.62L299.68 103.47L300.28 103.34L300.88 103.66L301.48 103.55L302.08 103.83L302.68 103.73L303.28 103.45L303.88 103.64L304.48 103.51L305.08 103.75L305.68 103.79L306.29 103.82L306.89 103.47L307.49 103.34L308.09 103.69L308.69 103.47L309.29 103.43L309.89 103.33L310.49 103.36L311.09 103.54L311.69 103.85L312.29 103.64L312.89 103.53L313.49 103.79L314.09 103.55L314.7 103.7L315.3 103.75L315.9 103.93L316.5 103.54L317.1 103.67L317.7 103.63L318.3 103.84" fill="none" stroke="#8a8a8a" stroke-width="0.8"/>
<path d="M237.8 112.5L238.4 111.32L239 110.8L239.6 110.5L240.2 110.49L240.8 109.99L241.4 109.74L242.01 109.9L242.61 109.77L243.21 109.34L243.81 109.2L244.41 109.12L245.01 109.06L245.61 109.28L246.21 109.24L246.81 109.32L247.41 109.15L248.01 109.03L248.61 108.83L249.21 108.9L249.81 108.77L250.42 108.48L251.02 108.57L251.62 108.53L252.22 108.57L252.82 108.31L253.42 108.2L254.02 108.64L254.62 108.47L255.22 108.38L255.82 108.24L256.42 108.41L257.02 108.63L257.62 108.32L258.23 108.36L258.83 108.37L259.43 108.5L260.03 108.44L260.63 108.24L261.23 108.13L261.83 108.37L262.43 108.11L263.03 108.42L263.63 108.09L264.23 108.04L264.83 108.17L265.43 108.4L266.04 108.36L266.64 108.41L267.24 108.42L267.84 108.41L268.44 108.05L269.04 108.32L269.64 108.05L270.24 107.97L270.84 107.87L271.44 107.82L272.04 108.24L272.64 108.13L273.24 107.93L273.84 107.84L274.45 108.22L275.05 108.22L275.65 108.38L276.25 107.98L276.85 107.87L277.45 107.92L278.05 107.89L278.65 107.83L279.25 107.85L279.85 108.09L280.45 107.92L281.05 107.86L281.65 108.02L282.26 107.99L282.86 107.86L283.46 108.03L284.06 108.06L284.66 108L285.26 108.02L285.86 107.8L286.46 108.02L287.06 107.87L287.66 107.89L288.26 107.73L288.86 108.13L289.46 108.1L290.06 107.99L290.67 108.03L291.27 108.25L291.87 107.9L292.47 107.91L293.07 108.07L293.67 107.96L294.27 108.09L294.87 108.23L295.47 107.83L296.07 107.81L296.67 107.81L297.27 108.04L297.87 108.14L298.48 108.13L299.08 108.24L299.68 107.89L300.28 107.88L300.88 108.11L301.48 108.14L302.08 107.81L302.68 108.14L303.28 108.14L303.88 108.2L304.48 107.95L305.08 107.99L305.68 108.19L306.29 108.22L306.89 108.07L307.49 108.17L308.09 108.27L308.69 108.22L309.29 108.1L309.89 108.22L310.49 107.83L311.09 107.83L311.69 107.91L312.29 107.72L312.89 107.99L313.49 107.7L314.09 107.9L314.7 107.79L315.3 107.77L315.9 107.91L316.5 107.74L317.1 107.82L317.7 108.06L318.3 108.21" fill="none" stroke="#8a8a8a" stroke-width="0.8"/>
<path d="M237.8 119.5L238.4 117.37L239 116.86L239.6 116.23L240.2 116.13L240.8 115.6L241.4 115.48L242.01 115.23L242.61 114.87L243.21 114.66L243.81 114.49L244.41 114.52L245.01 114.42L245.61 114.67L246.21 114.5L246.81 114.07L247.41 114.19L248.01 113.92L248.61 113.9L249.21 113.96L249.81 114L250.42 114.01L251.02 113.7L251.62 113.51L252.22 113.45L252.82 113.36L253.42 113.52L254.02 113.42L254.62 113.49L255.22 113.22L255.82 113.44L256.42 113.6L257.02 113.25L257.62 113.33L258.23 113.11L258.83 112.95L259.43 113.08L260.03 113L260.63 113.24L261.23 113.24L261.83 113.28L262.43 113.44L263.03 113.01L263.63 112.88L264.23 112.79L264.83 112.97L265.43 113.22L266.04 113.22L266.64 113.15L267.24 113.27L267.84 113.06L268.44 112.84L269.04 113.04L269.64 112.78L270.24 112.79L270.84 112.68L271.44 112.71L272.04 112.66L272.64 112.89L273.24 112.75L273.84 112.94L274.45 113.12L275.05 112.93L275.65 112.74L276.25 112.96L276.85 113.06L277.45 113.17L278.05 113.04L278.65 113L279.25 113.13L279.85 113.07L280.45 113.2L281.05 112.88L281.65 113.02L282.26 112.99L282.86 112.89L283.46 112.61L284.06 112.76L284.66 112.69L285.26 112.84L285.86 112.84L286.46 112.83L287.06 112.59L287.66 112.54L288.26 112.77L288.86 112.88L289.46 113.08L290.06 113.04L290.67 112.76L291.27 112.74L291.87 112.76L292.47 112.92L293.07 112.76L293.67 112.97L294.27 112.81L294.87 112.71L295.47 112.71L296.07 112.65L296.67 112.95L297.27 112.56L297.87 112.6L298.48 112.45L299.08 112.7L299.68 112.51L300.28 112.44L300.88 112.56L301.48 112.69L302.08 112.82L302.68 112.69L303.28 112.57L303.88 112.56L304.48 112.82L305.08 112.56L305.68 112.36L306.29 112.75L306.89 112.67L307.49 112.46L308.09 112.38L308.69 112.75L309.29 112.8L309.89 112.46L310.49 112.65L311.09 112.48L311.69 112.54L312.29 112.64L312.89 112.39L313.49 112.76L314.09 112.57L314.7 112.41L315.3 112.68L315.9 112.43L316.5 112.3L317.1 112.57L317.7 112.58L318.3 112.8" fill="none" stroke="#8a8a8a" stroke-width="0.8"/>
<path d="M318.3 94.85L319 95.29L319.7 95.58L320.4 95.99L321.1 96.45L321.8 96.71L322.5 97.15L323.2 97.24L323.9 97.48L324.6 97.75L325.3 98.01L326 98.17L326.7 98.36L327.4 98.55L328.1 98.63L328.8 98.96L329.5 99.05L330.2 99.08L330.9 99.19L331.6 99.25L332.3 99.48L333 99.47L333.7 99.64L334.4 99.7L335.1 99.88L335.8 100L336.5 100.19L337.2 100.34L337.9 100.36L338.6 100.25L339.3 100.61L340 100.61L340.7 100.58L341.4 100.69L342.1 100.7L342.8 100.61L343.5 100.85L344.2 101.03L344.9 100.99L345.6 100.79L346.3 100.81L347 101.17L347.7 101.19L348.4 101.16L349.1 101.2L349.8 100.98L350.5 101.27L351.2 101.05L351.9 101.06L352.6 101.18L353.3 101.04L354 101.4L354.7 101.15L355.4 101.4L356.1 101.35L356.8 101.44L357.5 101.39L358.2 101.55L358.9 101.33" fill="none" stroke="#666" stroke-width="0.75"/>
<path d="M318.3 96.3L319 96.54L319.7 96.98L320.4 97.07L321.1 97.52L321.8 97.48L322.5 97.76L323.2 98.05L323.9 98.13L324.6 98.35L325.3 98.78L326 98.76L326.7 98.86L327.4 99.26L328.1 99.29L328.8 99.44L329.5 99.67L330.2 99.72L330.9 99.65L331.6 99.65L332.3 99.97L333 100.13L333.7 100.25L334.4 100.09L335.1 100.35L335.8 100.54L336.5 100.34L337.2 100.42L337.9 100.54L338.6 100.65L339.3 100.88L340 100.77L340.7 100.94L341.4 100.89L342.1 100.86L342.8 100.83L343.5 100.89L344.2 101.1L344.9 100.89L345.6 100.91L346.3 100.97L347 101.18L347.7 101.09L348.4 101.05L349.1 101.13L349.8 101.05L350.5 101.21L351.2 101.38L351.9 101.26L352.6 101.27L353.3 101.12L354 101.24L354.7 101.17L355.4 101.18L356.1 101.52L356.8 101.47L357.5 101.53L358.2 101.26L358.9 101.37" fill="none" stroke="#666" stroke-width="0.75"/>
<path d="M318.3 97.77L319 97.8L319.7 98.21L320.4 98.43L321.1 98.24L321.8 98.59L322.5 98.81L323.2 98.88L323.9 99.04L324.6 99.18L325.3 99.26L326 99.3L326.7 99.71L327.4 99.93L328.1 99.65L328.8 100.08L329.5 100.04L330.2 99.92L330.9 100.03L331.6 100.29L332.3 100.2L333 100.34L333.7 100.4L334.4 100.74L335.1 100.6L335.8 100.58L336.5 100.9L337.2 100.96L337.9 100.91L338.6 100.72L339.3 101.06L340 100.92L340.7 101.1L341.4 101.11L342.1 101.11L342.8 101.19L343.5 101.23L344.2 101.12L344.9 101.16L345.6 101.03L346.3 101.16L347 101.39L347.7 101.14L348.4 101.37L349.1 101.42L349.8 101.19L350.5 101.43L351.2 101.41L351.9 101.55L352.6 101.33L353.3 101.49L354 101.53L354.7 101.36L355.4 101.31L356.1 101.38L356.8 101.5L357.5 101.35L358.2 101.6L358.9 101.38" fill="none" stroke="#666" stroke-width="0.75"/>
<path d="M318.3 98.91L319 98.89L319.7 99.11L320.4 99.4L321.1 99.38L321.8 99.56L322.5 99.56L323.2 99.73L323.9 99.67L324.6 99.95L325.3 100.02L326 100.05L326.7 100.08L327.4 100.22L328.1 100.28L328.8 100.38L329.5 100.62L330.2 100.72L330.9 100.79L331.6 100.64L332.3 100.89L333 100.81L333.7 101.02L334.4 100.72L335.1 101.01L335.8 100.98L336.5 100.99L337.2 101.12L337.9 101.19L338.6 101.22L339.3 101.05L340 101.09L340.7 101.21L341.4 101.01L342.1 101.34L342.8 101.27L343.5 101.23L344.2 101.33L344.9 101.48L345.6 101.43L346.3 101.39L347 101.23L347.7 101.55L348.4 101.33L349.1 101.55L349.8 101.4L350.5 101.48L351.2 101.57L351.9 101.25L352.6 101.36L353.3 101.32L354 101.28L354.7 101.4L355.4 101.64L356.1 101.38L356.8 101.33L357.5 101.67L358.2 101.5L358.9 101.49" fill="none" stroke="#666" stroke-width="0.75"/>
<path d="M318.3 99.98L319 100.12L319.7 99.98L320.4 100.05L321.1 100.22L321.8 100.47L322.5 100.57L323.2 100.35L323.9 100.61L324.6 100.57L325.3 100.8L326 100.62L326.7 100.66L327.4 100.61L328.1 101L328.8 100.76L329.5 100.84L330.2 100.87L330.9 101.17L331.6 100.87L332.3 101.01L333 101.17L333.7 101L334.4 101.19L335.1 101.15L335.8 101.01L336.5 101.27L337.2 101.19L337.9 101.15L338.6 101.48L339.3 101.44L340 101.3L340.7 101.27L341.4 101.16L342.1 101.46L342.8 101.29L343.5 101.4L344.2 101.45L344.9 101.52L345.6 101.29L346.3 101.27L347 101.55L347.7 101.27L348.4 101.42L349.1 101.28L349.8 101.36L350.5 101.36L351.2 101.63L351.9 101.59L352.6 101.4L353.3 101.54L354 101.51L354.7 101.35L355.4 101.47L356.1 101.63L356.8 101.38L357.5 101.43L358.2 101.48L358.9 101.34" fill="none" stroke="#666" stroke-width="0.75"/>
<path d="M318.3 101.01L319 100.9L319.7 101.03L320.4 101.02L321.1 101.16L321.8 101.14L322.5 101.07L323.2 100.98L323.9 101.13L324.6 100.99L325.3 101.04L326 101.36L326.7 101.26L327.4 101.39L328.1 101.39L328.8 101.32L329.5 101.42L330.2 101.52L330.9 101.53L331.6 101.27L332.3 101.55L333 101.38L333.7 101.29L334.4 101.38L335.1 101.46L335.8 101.59L336.5 101.61L337.2 101.48L337.9 101.59L338.6 101.48L339.3 101.32L340 101.46L340.7 101.57L341.4 101.6L342.1 101.57L342.8 101.31L343.5 101.59L344.2 101.71L344.9 101.41L345.6 101.61L346.3 101.41L347 101.64L347.7 101.71L348.4 101.43L349.1 101.68L349.8 101.47L350.5 101.7L351.2 101.37L351.9 101.66L352.6 101.45L353.3 101.51L354 101.43L354.7 101.69L355.4 101.45L356.1 101.51L356.8 101.52L357.5 101.48L358.2 101.46L358.9 101.68" fill="none" stroke="#666" stroke-width="0.75"/>
<path d="M318.3 103.23L319 103.15L319.7 102.77L320.4 102.8L321.1 102.51L321.8 102.42L322.5 102.48L323.2 102.47L323.9 102.45L324.6 102.34L325.3 102.09L326 102.16L326.7 102.27L327.4 102.31L328.1 102.26L328.8 102.06L329.5 102.21L330.2 101.91L330.9 102.04L331.6 102.07L332.3 101.75L333 101.76L333.7 101.84L334.4 101.78L335.1 101.75L335.8 101.88L336.5 101.9L337.2 101.83L337.9 101.9L338.6 101.74L339.3 101.75L340 101.64L340.7 101.67L341.4 101.77L342.1 101.89L342.8 101.74L343.5 101.9L344.2 101.91L344.9 101.84L345.6 101.84L346.3 101.53L347 101.79L347.7 101.52L348.4 101.8L349.1 101.67L349.8 101.53L350.5 101.86L351.2 101.56L351.9 101.86L352.6 101.79L353.3 101.84L354 101.72L354.7 101.61L355.4 101.74L356.1 101.64L356.8 101.75L357.5 101.84L358.2 101.47L358.9 101.51" fill="none" stroke="#666" stroke-width="0.75"/>
<path d="M318.3 105.77L319 105.19L319.7 104.97L320.4 104.68L321.1 104.3L321.8 104L322.5 104.03L323.2 103.68L323.9 103.69L324.6 103.43L325.3 103.49L326 103.13L326.7 103.12L327.4 102.91L328.1 103.09L328.8 102.74L329.5 102.82L330.2 102.63L330.9 102.69L331.6 102.61L332.3 102.62L333 102.51L333.7 102.39L334.4 102.35L335.1 102.19L335.8 102.13L336.5 102.11L337.2 102.39L337.9 102.25L338.6 102.32L339.3 102.17L340 101.98L340.7 101.88L341.4 102.06L342.1 102.22L342.8 102.12L343.5 101.81L344.2 101.91L344.9 101.8L345.6 101.84L346.3 101.99L347 101.83L347.7 101.89L348.4 101.79L349.1 101.82L349.8 101.8L350.5 101.87L351.2 101.65L351.9 102.01L352.6 101.65L353.3 101.61L354 101.94L354.7 101.72L355.4 101.57L356.1 101.66L356.8 101.87L357.5 101.84L358.2 101.79L358.9 101.86" fill="none" stroke="#666" stroke-width="0.75"/>
<path d="M318.3 108.99L319 108.43L319.7 107.54L320.4 107.07L321.1 106.72L321.8 106.18L322.5 105.68L323.2 105.38L323.9 105.29L324.6 104.9L325.3 104.59L326 104.48L326.7 104.1L327.4 104.16L328.1 103.85L328.8 103.77L329.5 103.57L330.2 103.65L330.9 103.27L331.6 103.44L332.3 103.26L333 102.98L333.7 102.89L334.4 102.85L335.1 102.85L335.8 102.99L336.5 102.86L337.2 102.6L337.9 102.62L338.6 102.39L339.3 102.64L340 102.56L340.7 102.49L341.4 102.43L342.1 102.18L342.8 102.32L343.5 102.32L344.2 102.29L344.9 102.37L345.6 102.11L346.3 102.05L347 102.1L347.7 102.15L348.4 102.22L349.1 102.15L349.8 102.04L350.5 101.96L351.2 102.09L351.9 101.92L352.6 101.92L353.3 101.74L354 101.92L354.7 101.78L355.4 102.07L356.1 101.71L356.8 101.68L357.5 101.85L358.2 102.03L358.9 101.73" fill="none" stroke="#666" stroke-width="0.75"/>
<path d="M318.3 112.45L319 111.35L319.7 110.36L320.4 109.78L321.1 108.95L321.8 108.5L322.5 107.7L323.2 107.34L323.9 106.7L324.6 106.41L325.3 106.29L326 105.85L326.7 105.51L327.4 105.44L328.1 104.97L328.8 104.65L329.5 104.6L330.2 104.47L330.9 104.39L331.6 104.07L332.3 103.98L333 104L333.7 103.77L334.4 103.51L335.1 103.67L335.8 103.42L336.5 103.44L337.2 103.33L337.9 103.2L338.6 102.97L339.3 103.04L340 102.75L340.7 102.91L341.4 102.79L342.1 102.65L342.8 102.64L343.5 102.52L344.2 102.55L344.9 102.48L345.6 102.46L346.3 102.23L347 102.23L347.7 102.49L348.4 102.18L349.1 102.2L349.8 102.32L350.5 102.16L351.2 102.14L351.9 101.97L352.6 102.1L353.3 102.13L354 102.05L354.7 102L355.4 101.9L356.1 101.96L356.8 101.81L357.5 101.88L358.2 101.75L358.9 101.8" fill="none" stroke="#666" stroke-width="0.75"/>
<path d="M318.3 116.43L319 115.29L319.7 113.83L320.4 112.59L321.1 111.75L321.8 110.74L322.5 110.13L323.2 109.4L323.9 108.75L324.6 108.42L325.3 107.85L326 107.52L326.7 106.86L327.4 106.55L328.1 106.35L328.8 106.04L329.5 105.63L330.2 105.31L330.9 105.37L331.6 104.97L332.3 104.64L333 104.74L333.7 104.42L334.4 104.43L335.1 104.03L335.8 103.95L336.5 104.08L337.2 103.84L337.9 103.65L338.6 103.72L339.3 103.55L340 103.25L340.7 103.2L341.4 103.36L342.1 103.3L342.8 103.13L343.5 102.99L344.2 103.07L344.9 102.91L345.6 102.96L346.3 102.8L347 102.55L347.7 102.77L348.4 102.58L349.1 102.45L349.8 102.37L350.5 102.34L351.2 102.41L351.9 102.17L352.6 102.26L353.3 102.18L354 102.08L354.7 102.21L355.4 102.13L356.1 102.31L356.8 102.14L357.5 101.96L358.2 101.91L358.9 102.08" fill="none" stroke="#666" stroke-width="0.75"/>
<line x1="338" y1="101.6" x2="359" y2="101.6" stroke="#444" stroke-width="1"/>
<line x1="237.6" y1="9" x2="237.6" y2="122.2" stroke="#999" stroke-width="1"/>
<line x1="318.7" y1="58.3" x2="318.7" y2="147.6" stroke="#888" stroke-width="1.1"/>
<text x="68.3" y="140.6" class="t10">Female</text>
<text x="266.8" y="139.9" class="t10">Male</text>
<text x="165.3" y="163.4" class="t10">100 mV</text>
<text x="53.8" y="197.4" class="t10">-50 mV</text>
<text x="161.3" y="221.8" class="t10">-100 mV</text>
<line x1="101" y1="201.4" x2="148.4" y2="201.4" stroke="#444" stroke-width="1"/>
<line x1="233.7" y1="201.4" x2="278.2" y2="201.4" stroke="#444" stroke-width="1"/>
<line x1="148.4" y1="176.7" x2="233.7" y2="176.7" stroke="#777" stroke-width="0.8"/>
<line x1="148.4" y1="180.03" x2="233.7" y2="180.03" stroke="#777" stroke-width="0.8"/>
<line x1="148.4" y1="183.37" x2="233.7" y2="183.37" stroke="#777" stroke-width="0.8"/>
<line x1="148.4" y1="186.7" x2="233.7" y2="186.7" stroke="#777" stroke-width="0.8"/>
<line x1="148.4" y1="190.04" x2="233.7" y2="190.04" stroke="#777" stroke-width="0.8"/>
<line x1="148.4" y1="193.38" x2="233.7" y2="193.38" stroke="#777" stroke-width="0.8"/>
<line x1="148.4" y1="196.71" x2="233.7" y2="196.71" stroke="#777" stroke-width="0.8"/>
<line x1="148.4" y1="200.04" x2="233.7" y2="200.04" stroke="#777" stroke-width="0.8"/>
<line x1="148.4" y1="203.38" x2="233.7" y2="203.38" stroke="#777" stroke-width="0.8"/>
<line x1="148.4" y1="206.71" x2="233.7" y2="206.71" stroke="#777" stroke-width="0.8"/>
<line x1="148.4" y1="210.05" x2="233.7" y2="210.05" stroke="#777" stroke-width="0.8"/>
<line x1="148.4" y1="176.7" x2="148.4" y2="210.1" stroke="#777" stroke-width="0.8"/>
<line x1="233.7" y1="176.7" x2="233.7" y2="210.1" stroke="#777" stroke-width="0.8"/>
<line x1="181.0" y1="241.2" x2="181.7" y2="423.8" stroke="#444" stroke-width="1"/>
<line x1="177" y1="241.3" x2="181" y2="241.3" stroke="#444" stroke-width="1"/>
<text x="174.8" y="244.9" class="t95" text-anchor="end">1200</text>
<line x1="179.04" y1="252.71" x2="181.04" y2="252.71" stroke="#444" stroke-width="1"/>
<line x1="177.09" y1="264.12" x2="181.09" y2="264.12" stroke="#444" stroke-width="1"/>
<text x="174.89" y="267.72" class="t95" text-anchor="end">1000</text>
<line x1="179.13" y1="275.53" x2="181.13" y2="275.53" stroke="#444" stroke-width="1"/>
<line x1="177.17" y1="286.94" x2="181.17" y2="286.94" stroke="#444" stroke-width="1"/>
<text x="174.97" y="290.54" class="t95" text-anchor="end">800</text>
<line x1="179.22" y1="298.35" x2="181.22" y2="298.35" stroke="#444" stroke-width="1"/>
<line x1="177.26" y1="309.76" x2="181.26" y2="309.76" stroke="#444" stroke-width="1"/>
<text x="175.06" y="313.36" class="t95" text-anchor="end">600</text>
<line x1="179.3" y1="321.17" x2="181.3" y2="321.17" stroke="#444" stroke-width="1"/>
<line x1="177.35" y1="332.58" x2="181.35" y2="332.58" stroke="#444" stroke-width="1"/>
<text x="175.15" y="336.18" class="t95" text-anchor="end">400</text>
<line x1="179.39" y1="343.99" x2="181.39" y2="343.99" stroke="#444" stroke-width="1"/>
<line x1="177.43" y1="355.4" x2="181.43" y2="355.4" stroke="#444" stroke-width="1"/>
<text x="175.23" y="359" class="t95" text-anchor="end">200</text>
<line x1="179.48" y1="366.81" x2="181.48" y2="366.81" stroke="#444" stroke-width="1"/>
<line x1="177.52" y1="378.22" x2="181.52" y2="378.22" stroke="#444" stroke-width="1"/>
<text x="174.92" y="381.72" class="t95" text-anchor="end">0</text>
<line x1="179.56" y1="389.63" x2="181.56" y2="389.63" stroke="#444" stroke-width="1"/>
<line x1="177.61" y1="401.04" x2="181.61" y2="401.04" stroke="#444" stroke-width="1"/>
<text x="175.41" y="404.64" class="t95" text-anchor="end">-200</text>
<line x1="179.65" y1="412.45" x2="181.65" y2="412.45" stroke="#444" stroke-width="1"/>
<line x1="177.69" y1="423.86" x2="181.69" y2="423.86" stroke="#444" stroke-width="1"/>
<text x="175.49" y="427.46" class="t95" text-anchor="end">-400</text>
<line x1="58.8" y1="378.9" x2="304.2" y2="377.4" stroke="#444" stroke-width="1"/>
<line x1="59" y1="378.9" x2="59" y2="382.3" stroke="#444" stroke-width="1"/>
<text x="56.5" y="393.5" class="t95" text-anchor="middle">-100</text>
<line x1="89.6" y1="378.71" x2="89.6" y2="380.31" stroke="#444" stroke-width="1"/>
<line x1="120.2" y1="378.52" x2="120.2" y2="381.92" stroke="#444" stroke-width="1"/>
<text x="117.7" y="393.12" class="t95" text-anchor="middle">-50</text>
<line x1="150.8" y1="378.34" x2="150.8" y2="379.94" stroke="#444" stroke-width="1"/>
<line x1="181.4" y1="378.15" x2="181.4" y2="381.55" stroke="#444" stroke-width="1"/>
<text x="181.4" y="392.75" class="t95" text-anchor="middle">0</text>
<line x1="212" y1="377.96" x2="212" y2="379.56" stroke="#444" stroke-width="1"/>
<line x1="242.6" y1="377.78" x2="242.6" y2="381.18" stroke="#444" stroke-width="1"/>
<text x="242.6" y="392.38" class="t95" text-anchor="middle">50</text>
<line x1="273.2" y1="377.59" x2="273.2" y2="379.19" stroke="#444" stroke-width="1"/>
<line x1="303.8" y1="377.4" x2="303.8" y2="380.8" stroke="#444" stroke-width="1"/>
<text x="303.8" y="392" class="t95" text-anchor="middle">100</text>
<text x="120.4" y="245.2" class="t95">I (pA)</text>
<text x="272.4" y="406.2" class="t10">V (mV)</text>
<polyline points="60.2,381.6 83.3,380.6 108.2,379.1 132.5,375.5 157,369.2 181.3,357.5 205.6,344.5 229.8,325.5 254,306.2 278.4,289.3 302.7,274.4" fill="none" stroke="#999" stroke-width="0.8"/>
<polyline points="60.2,405.6 83.3,389.3 108.2,372.6 132.5,355.7 157,338.3 181.3,321.2 205.6,305.6 229.8,292.2 254,284.4 278.4,278.4 302.7,273.3" fill="none" stroke="#444" stroke-width="0.8"/>
<path d="M205.6 342V347M204.3 342H206.9M204.3 347H206.9" stroke="#888" stroke-width="0.8" fill="none"/>
<path d="M229.8 321.3V329.7M228.5 321.3H231.1M228.5 329.7H231.1" stroke="#888" stroke-width="0.8" fill="none"/>
<path d="M254 300.4V312M252.7 300.4H255.3M252.7 312H255.3" stroke="#888" stroke-width="0.8" fill="none"/>
<path d="M278.4 283V295.6M277.1 283H279.7M277.1 295.6H279.7" stroke="#888" stroke-width="0.8" fill="none"/>
<path d="M302.7 266.4V282.4M301.4 266.4H304M301.4 282.4H304" stroke="#888" stroke-width="0.8" fill="none"/>
<path d="M60.2 401.9V409.3M58.9 401.9H61.5M58.9 409.3H61.5" stroke="#777" stroke-width="0.8" fill="none"/>
<path d="M132.5 351.9V359.5M131.2 351.9H133.8M131.2 359.5H133.8" stroke="#777" stroke-width="0.8" fill="none"/>
<path d="M157 332.4V344.2M155.7 332.4H158.3M155.7 344.2H158.3" stroke="#777" stroke-width="0.8" fill="none"/>
<path d="M205.6 295.1V316.1M204.3 295.1H206.9M204.3 316.1H206.9" stroke="#777" stroke-width="0.8" fill="none"/>
<path d="M229.8 280.5V303.9M228.5 280.5H231.1M228.5 303.9H231.1" stroke="#777" stroke-width="0.8" fill="none"/>
<path d="M254 272.6V296.2M252.7 272.6H255.3M252.7 296.2H255.3" stroke="#777" stroke-width="0.8" fill="none"/>
<path d="M278.4 266.6V290.2M277.1 266.6H279.7M277.1 290.2H279.7" stroke="#777" stroke-width="0.8" fill="none"/>
<path d="M302.7 262.8V283.8M301.4 262.8H304M301.4 283.8H304" stroke="#777" stroke-width="0.8" fill="none"/>
<circle cx="60.2" cy="381.6" r="2" fill="#555"/>
<circle cx="83.3" cy="380.6" r="2" fill="#555"/>
<circle cx="108.2" cy="379.1" r="2" fill="#555"/>
<circle cx="132.5" cy="375.5" r="2" fill="#555"/>
<circle cx="157" cy="369.2" r="2" fill="#555"/>
<circle cx="181.3" cy="357.5" r="2" fill="#555"/>
<circle cx="205.6" cy="344.5" r="2" fill="#555"/>
<circle cx="229.8" cy="325.5" r="2" fill="#555"/>
<circle cx="254" cy="306.2" r="2" fill="#555"/>
<circle cx="278.4" cy="289.3" r="2" fill="#555"/>
<circle cx="302.7" cy="274.4" r="2" fill="#555"/>
<rect x="58.3" y="403.7" width="3.8" height="3.8" fill="#111"/>
<rect x="81.4" y="387.4" width="3.8" height="3.8" fill="#111"/>
<rect x="106.3" y="370.7" width="3.8" height="3.8" fill="#111"/>
<rect x="130.6" y="353.8" width="3.8" height="3.8" fill="#111"/>
<rect x="155.1" y="336.4" width="3.8" height="3.8" fill="#111"/>
<rect x="179.4" y="319.3" width="3.8" height="3.8" fill="#111"/>
<rect x="203.7" y="303.7" width="3.8" height="3.8" fill="#111"/>
<rect x="227.9" y="290.3" width="3.8" height="3.8" fill="#111"/>
<rect x="252.1" y="282.5" width="3.8" height="3.8" fill="#111"/>
<rect x="276.5" y="276.5" width="3.8" height="3.8" fill="#111"/>
<rect x="300.8" y="271.4" width="3.8" height="3.8" fill="#111"/>
</g>
</svg>
</body></html>
